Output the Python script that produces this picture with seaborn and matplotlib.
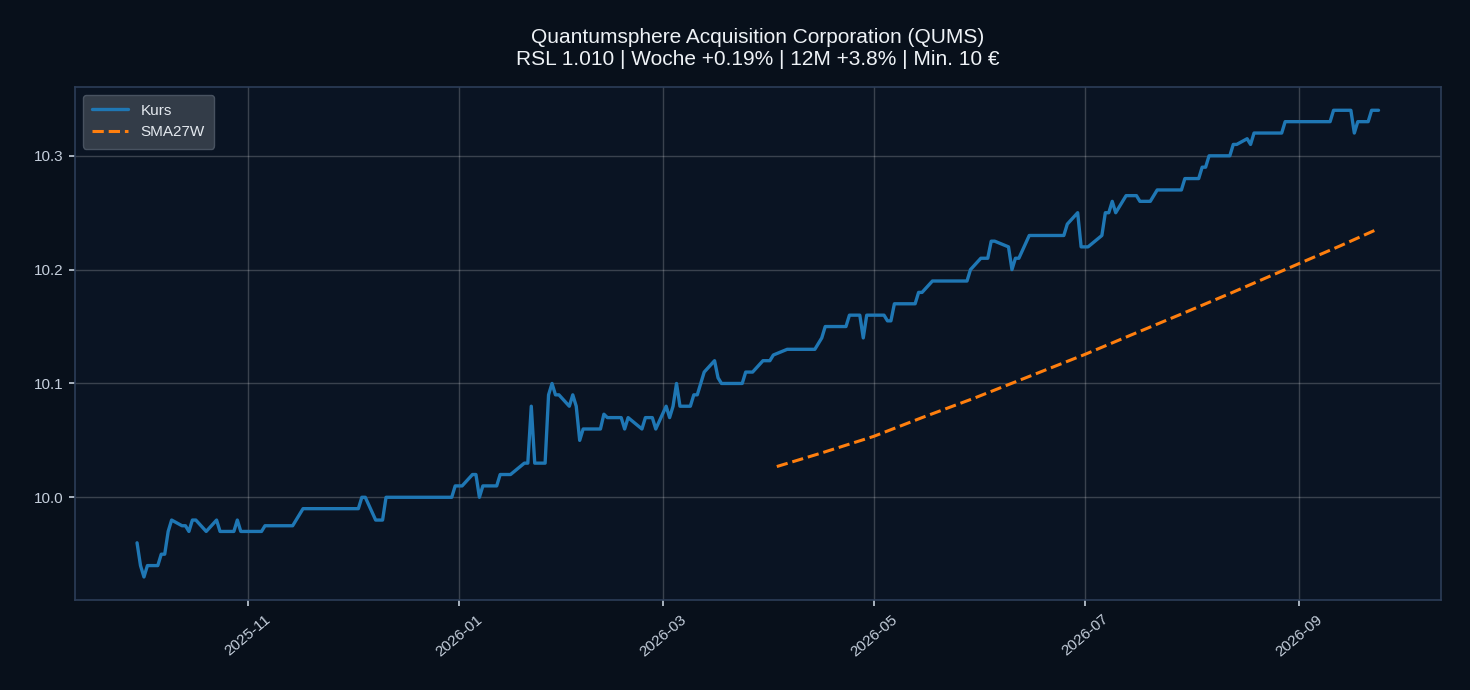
import numpy as np
import pandas as pd
import matplotlib
matplotlib.use("Agg")
import matplotlib.pyplot as plt
import matplotlib.dates as mdates
from matplotlib.ticker import MultipleLocator
import seaborn as sns

# Kurs (daily close, vertices)
kurs_dates = [
    "2025-09-30", "2025-10-01", "2025-10-02", "2025-10-03", "2025-10-06", "2025-10-07",
    "2025-10-08", "2025-10-09", "2025-10-10", "2025-10-13", "2025-10-14", "2025-10-15",
    "2025-10-16", "2025-10-17", "2025-10-20", "2025-10-23", "2025-10-24", "2025-10-28",
    "2025-10-29", "2025-10-30", "2025-11-05", "2025-11-06", "2025-11-14", "2025-11-17",
    "2025-12-03", "2025-12-04", "2025-12-05", "2025-12-08", "2025-12-10", "2025-12-11",
    "2025-12-30", "2025-12-31", "2026-01-02", "2026-01-05", "2026-01-06", "2026-01-07",
    "2026-01-08", "2026-01-12", "2026-01-13", "2026-01-16", "2026-01-20", "2026-01-21",
    "2026-01-22", "2026-01-23", "2026-01-26", "2026-01-27", "2026-01-28", "2026-01-29",
    "2026-01-30", "2026-02-02", "2026-02-03", "2026-02-04", "2026-02-05", "2026-02-06",
    "2026-02-11", "2026-02-12", "2026-02-13", "2026-02-17", "2026-02-18", "2026-02-19",
    "2026-02-23", "2026-02-24", "2026-02-26", "2026-02-27", "2026-03-02", "2026-03-03",
    "2026-03-04", "2026-03-05", "2026-03-06", "2026-03-09", "2026-03-10", "2026-03-11",
    "2026-03-13", "2026-03-16", "2026-03-17", "2026-03-18", "2026-03-24", "2026-03-25",
    "2026-03-27", "2026-03-30", "2026-04-01", "2026-04-02", "2026-04-06", "2026-04-14",
    "2026-04-16", "2026-04-17", "2026-04-23", "2026-04-24", "2026-04-27", "2026-04-28",
    "2026-04-29", "2026-05-04", "2026-05-05", "2026-05-06", "2026-05-07", "2026-05-13",
    "2026-05-14", "2026-05-15", "2026-05-18", "2026-05-28", "2026-05-29", "2026-06-01",
    "2026-06-03", "2026-06-04", "2026-06-05", "2026-06-09", "2026-06-10", "2026-06-11",
    "2026-06-12", "2026-06-15", "2026-06-25", "2026-06-26", "2026-06-29", "2026-06-30",
    "2026-07-02", "2026-07-06", "2026-07-07", "2026-07-08", "2026-07-09", "2026-07-10",
    "2026-07-13", "2026-07-16", "2026-07-17", "2026-07-20", "2026-07-22", "2026-07-29",
    "2026-07-30", "2026-08-03", "2026-08-04", "2026-08-05", "2026-08-06", "2026-08-12",
    "2026-08-13", "2026-08-14", "2026-08-17", "2026-08-18", "2026-08-19", "2026-08-27",
    "2026-08-28", "2026-09-10", "2026-09-11", "2026-09-16", "2026-09-17", "2026-09-18",
    "2026-09-21", "2026-09-22", "2026-09-24",
]
kurs_values = [
    9.96, 9.94, 9.93, 9.94, 9.94, 9.95,
    9.95, 9.97, 9.98, 9.975, 9.975, 9.97,
    9.98, 9.98, 9.97, 9.98, 9.97, 9.97,
    9.98, 9.97, 9.97, 9.975, 9.975, 9.99,
    9.99, 10.00, 10.00, 9.98, 9.98, 10.00,
    10.00, 10.01, 10.01, 10.02, 10.02, 10.00,
    10.01, 10.01, 10.02, 10.02, 10.03, 10.03,
    10.08, 10.03, 10.03, 10.09, 10.10, 10.09,
    10.09, 10.08, 10.09, 10.08, 10.05, 10.06,
    10.06, 10.073, 10.07, 10.07, 10.06, 10.07,
    10.06, 10.07, 10.07, 10.06, 10.08, 10.07,
    10.08, 10.10, 10.08, 10.08, 10.09, 10.09,
    10.11, 10.12, 10.105, 10.10, 10.10, 10.11,
    10.11, 10.12, 10.12, 10.125, 10.13, 10.13,
    10.14, 10.15, 10.15, 10.16, 10.16, 10.14,
    10.16, 10.16, 10.155, 10.155, 10.17, 10.17,
    10.18, 10.18, 10.19, 10.19, 10.20, 10.21,
    10.21, 10.225, 10.225, 10.22, 10.20, 10.21,
    10.21, 10.23, 10.23, 10.24, 10.25, 10.22,
    10.22, 10.23, 10.25, 10.25, 10.26, 10.25,
    10.265, 10.265, 10.26, 10.26, 10.27, 10.27,
    10.28, 10.28, 10.29, 10.29, 10.30, 10.30,
    10.31, 10.31, 10.315, 10.31, 10.32, 10.32,
    10.33, 10.33, 10.34, 10.34, 10.32, 10.33,
    10.33, 10.34, 10.34,
]

# SMA 27 Wochen
sma_dates = [
    "2026-04-03", "2026-04-16", "2026-05-01", "2026-05-15", "2026-05-30", "2026-06-14",
    "2026-07-01", "2026-07-14", "2026-07-29", "2026-08-12", "2026-09-01", "2026-09-13",
    "2026-09-24",
]
sma_values = [
    10.027, 10.039, 10.0535, 10.070, 10.087, 10.105,
    10.1254, 10.142, 10.161, 10.179, 10.2053, 10.221,
    10.236,
]

title = "Quantumsphere Acquisition Corporation (QUMS)\nRSL 1.010 | Woche +0.19% | 12M +3.8% | Min. 10 €"

df_kurs = pd.DataFrame({"Datum": pd.to_datetime(kurs_dates), "Wert": kurs_values})
df_sma = pd.DataFrame({"Datum": pd.to_datetime(sma_dates), "Wert": sma_values})

fig_bg = "#08101b"
ax_bg = "#0a1423"
text_col = "#c5cfdc"

sns.set_theme(style="dark")
plt.rcParams["font.family"] = ["Liberation Sans", "DejaVu Sans"]

fig, ax = plt.subplots(figsize=(14.7, 6.9), dpi=100)
fig.patch.set_facecolor(fig_bg)
ax.set_facecolor(ax_bg)

sns.lineplot(data=df_kurs, x="Datum", y="Wert", ax=ax, color="#1f77b4", linewidth=2.4, label="Kurs")
sns.lineplot(data=df_sma, x="Datum", y="Wert", ax=ax, color="#ff7f0e", linewidth=2.2,
             linestyle="--", label="SMA27W")

ax.xaxis.set_major_locator(mdates.MonthLocator(bymonth=[1, 3, 5, 7, 9, 11]))
ax.xaxis.set_major_formatter(mdates.DateFormatter("%Y-%m"))
ax.yaxis.set_major_locator(MultipleLocator(0.1))
ax.margins(x=0.05, y=0.05)

ax.grid(True, color="#ffffff", alpha=0.2, linewidth=1)
for s in ax.spines.values():
    s.set_color("#2c3d58")
    s.set_linewidth(1.2)
ax.tick_params(axis="both", colors=text_col, labelsize=11, length=4.5, width=1.2, pad=4,
               bottom=True, left=True)
plt.setp(ax.get_xticklabels(), rotation=40)

ax.set_xlabel("")
ax.set_ylabel("")
ax.set_title(title, color="#eef2f6", fontsize=15, pad=15.5)

leg = ax.legend(loc="upper left", fontsize=11, facecolor="#363f4b", edgecolor="#4b5563",
                framealpha=0.95, handlelength=2.4, borderpad=0.6)
for t in leg.get_texts():
    t.set_color("#e4e9ef")

fig.subplots_adjust(left=0.051, right=0.980, top=0.874, bottom=0.130)
fig.savefig("out.png", dpi=100, facecolor=fig_bg)
